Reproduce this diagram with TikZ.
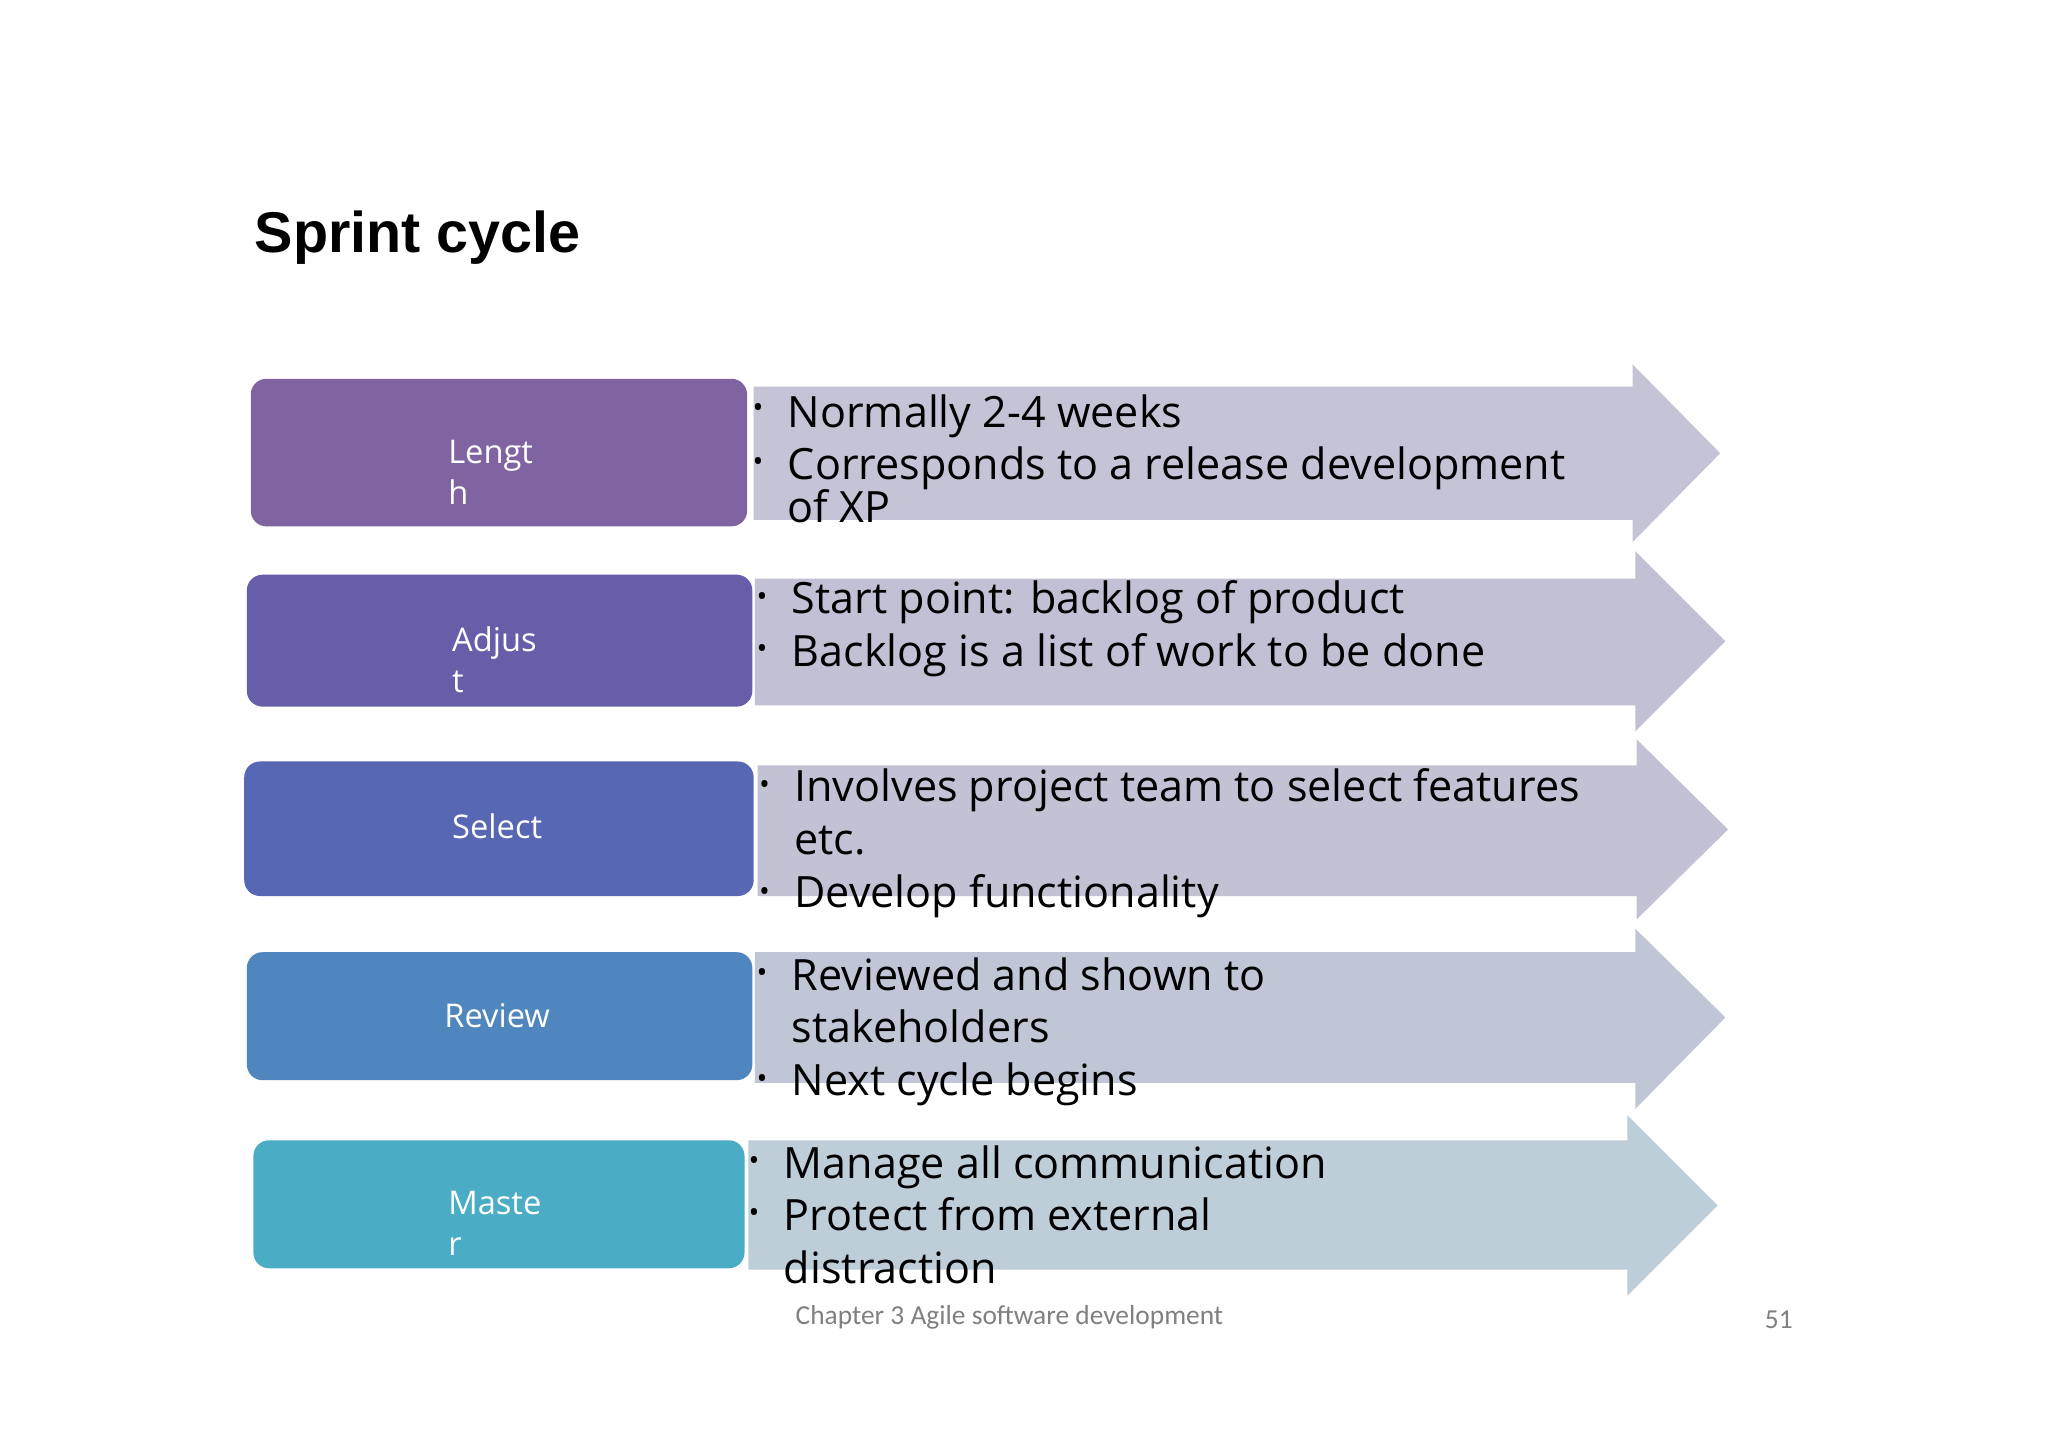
\documentclass[tikz,border=0pt]{standalone}
\usepackage{fontspec}
\setmainfont{Open Sans}
\newfontfamily\titlef{Liberation Sans}
\newfontfamily\footf{Carlito}
\begin{document}
\begin{tikzpicture}[x=1pt,y=-1pt,
  boxst/.style={draw=none,rounded corners=12pt},
  lbl/.style={anchor=base west,text=white,font=\fontsize{25}{25}\selectfont,inner sep=0},
  txt/.style={anchor=base west,font=\fontsize{33}{33}\selectfont,inner sep=0},
  bul/.style={anchor=base west,font=\fontsize{22}{22}\selectfont,inner sep=0}]
\useasboundingbox[fill=white] (0,0) rectangle (1568,1108);
\node[anchor=base west,inner sep=0,font=\titlef\bfseries\fontsize{44}{44}\selectfont] (title) at (195,193) {Sprint cycle};
% arrows
\newcommand\sarrow[7]{% x0 x1 ytop ybot headtop headbot tip
  \fill[#7] (#1,#3) -- (#2,#3) -- (#2,#5) -- (#6,{(#3+#4)/2}) -- (#2,{#5+(#4-#3)+2*(#3-#5)}) -- (#2,#4) -- (#1,#4) -- cycle;}
\fill[fill={rgb,255:red,197;green,195;blue,214}] (577,296) -- (1250,296) -- (1250,279) -- (1317,347) -- (1250,415) -- (1250,398) -- (577,398) -- cycle;
\fill[fill={rgb,255:red,194;green,192;blue,212}] (578,443) -- (1252,443) -- (1252,422) -- (1321,491) -- (1252,560) -- (1252,540) -- (578,540) -- cycle;
\fill[fill={rgb,255:red,194;green,194;blue,212}] (580,586) -- (1253,586) -- (1253,566) -- (1323,635) -- (1253,704) -- (1253,686) -- (580,686) -- cycle;
\fill[fill={rgb,255:red,192;green,198;blue,214}] (578,729) -- (1252,729) -- (1252,711) -- (1321,779) -- (1252,849) -- (1252,829) -- (578,829) -- cycle;
\fill[fill={rgb,255:red,190;green,206;blue,216}] (573,873) -- (1246,873) -- (1246,854) -- (1315,923) -- (1246,992) -- (1246,972) -- (573,972) -- cycle;
% boxes
\fill[boxst,fill={rgb,255:red,128;green,100;blue,162}] (192,290) rectangle (572,403);
\fill[boxst,fill={rgb,255:red,103;green,94;blue,170}] (189,440) rectangle (576,541);
\fill[boxst,fill={rgb,255:red,87;green,103;blue,180}] (187,583) rectangle (577,686);
\fill[boxst,fill={rgb,255:red,79;green,134;blue,189}] (189,729) rectangle (576,827);
\fill[boxst,fill={rgb,255:red,75;green,172;blue,198}] (194,873) rectangle (570,971);
\node[lbl] (l1) at (343,355) {Lengt};
\node[lbl] (l1b) at (343,386) {h};
\node[lbl] (l2) at (346,499) {Adjus};
\node[lbl] (l2b) at (346,530) {t};
\node[lbl] (l3) at (346,642) {Select};
\node[lbl] (l4) at (340,787) {Review};
\node[lbl] (l5) at (343,930) {Maste};
\node[lbl] (l5b) at (343,961) {r};
% bullets
\node[bul] (b1) at (576,320) {•};
\node[txt] (t1) at (603,327) {Normally 2-4 weeks};
\node[bul] (b2) at (576,361) {•};
\node[txt] (t2) at (603,367) {Corresponds to a release development};
\node[txt] (t3) at (603,400) {of XP};
\node[bul] (b3) at (579,464) {•};
\node[txt] (t4) at (606,470) {Start point: backlog of product};
\node[bul] (b4) at (579,504) {•};
\node[txt] (t5) at (606,510) {Backlog is a list of work to be done};
\node[bul] (b5) at (581,608) {•};
\node[txt] (t6) at (608,614) {Involves project team to select features};
\node[txt] (t7) at (608,654) {etc.};
\node[bul] (b6) at (581,690) {•};
\node[txt] (t8) at (608,695) {Develop functionality};
\node[bul] (b7) at (579,752) {•};
\node[txt] (t9) at (606,758) {Reviewed and shown to};
\node[txt] (t10) at (606,798) {stakeholders};
\node[bul] (b8) at (579,833) {•};
\node[txt] (t11) at (606,839) {Next cycle begins};
\node[bul] (b9) at (573,896) {•};
\node[txt] (t12) at (600,902) {Manage all communication};
\node[bul] (b10) at (573,936) {•};
\node[txt] (t13) at (600,942) {Protect from external};
\node[txt] (t14) at (600,983) {distraction};
\node[anchor=base west,inner sep=0,text={rgb,255:red,128;green,128;blue,128},font=\footf\fontsize{21}{21}\selectfont] (f) at (609,1014) {Chapter 3 Agile software development};
\node[anchor=base west,inner sep=0,text={rgb,255:red,128;green,128;blue,128},font=\footf\fontsize{21}{21}\selectfont] (pg) at (1351,1017) {51};
\end{tikzpicture}
\end{document}
